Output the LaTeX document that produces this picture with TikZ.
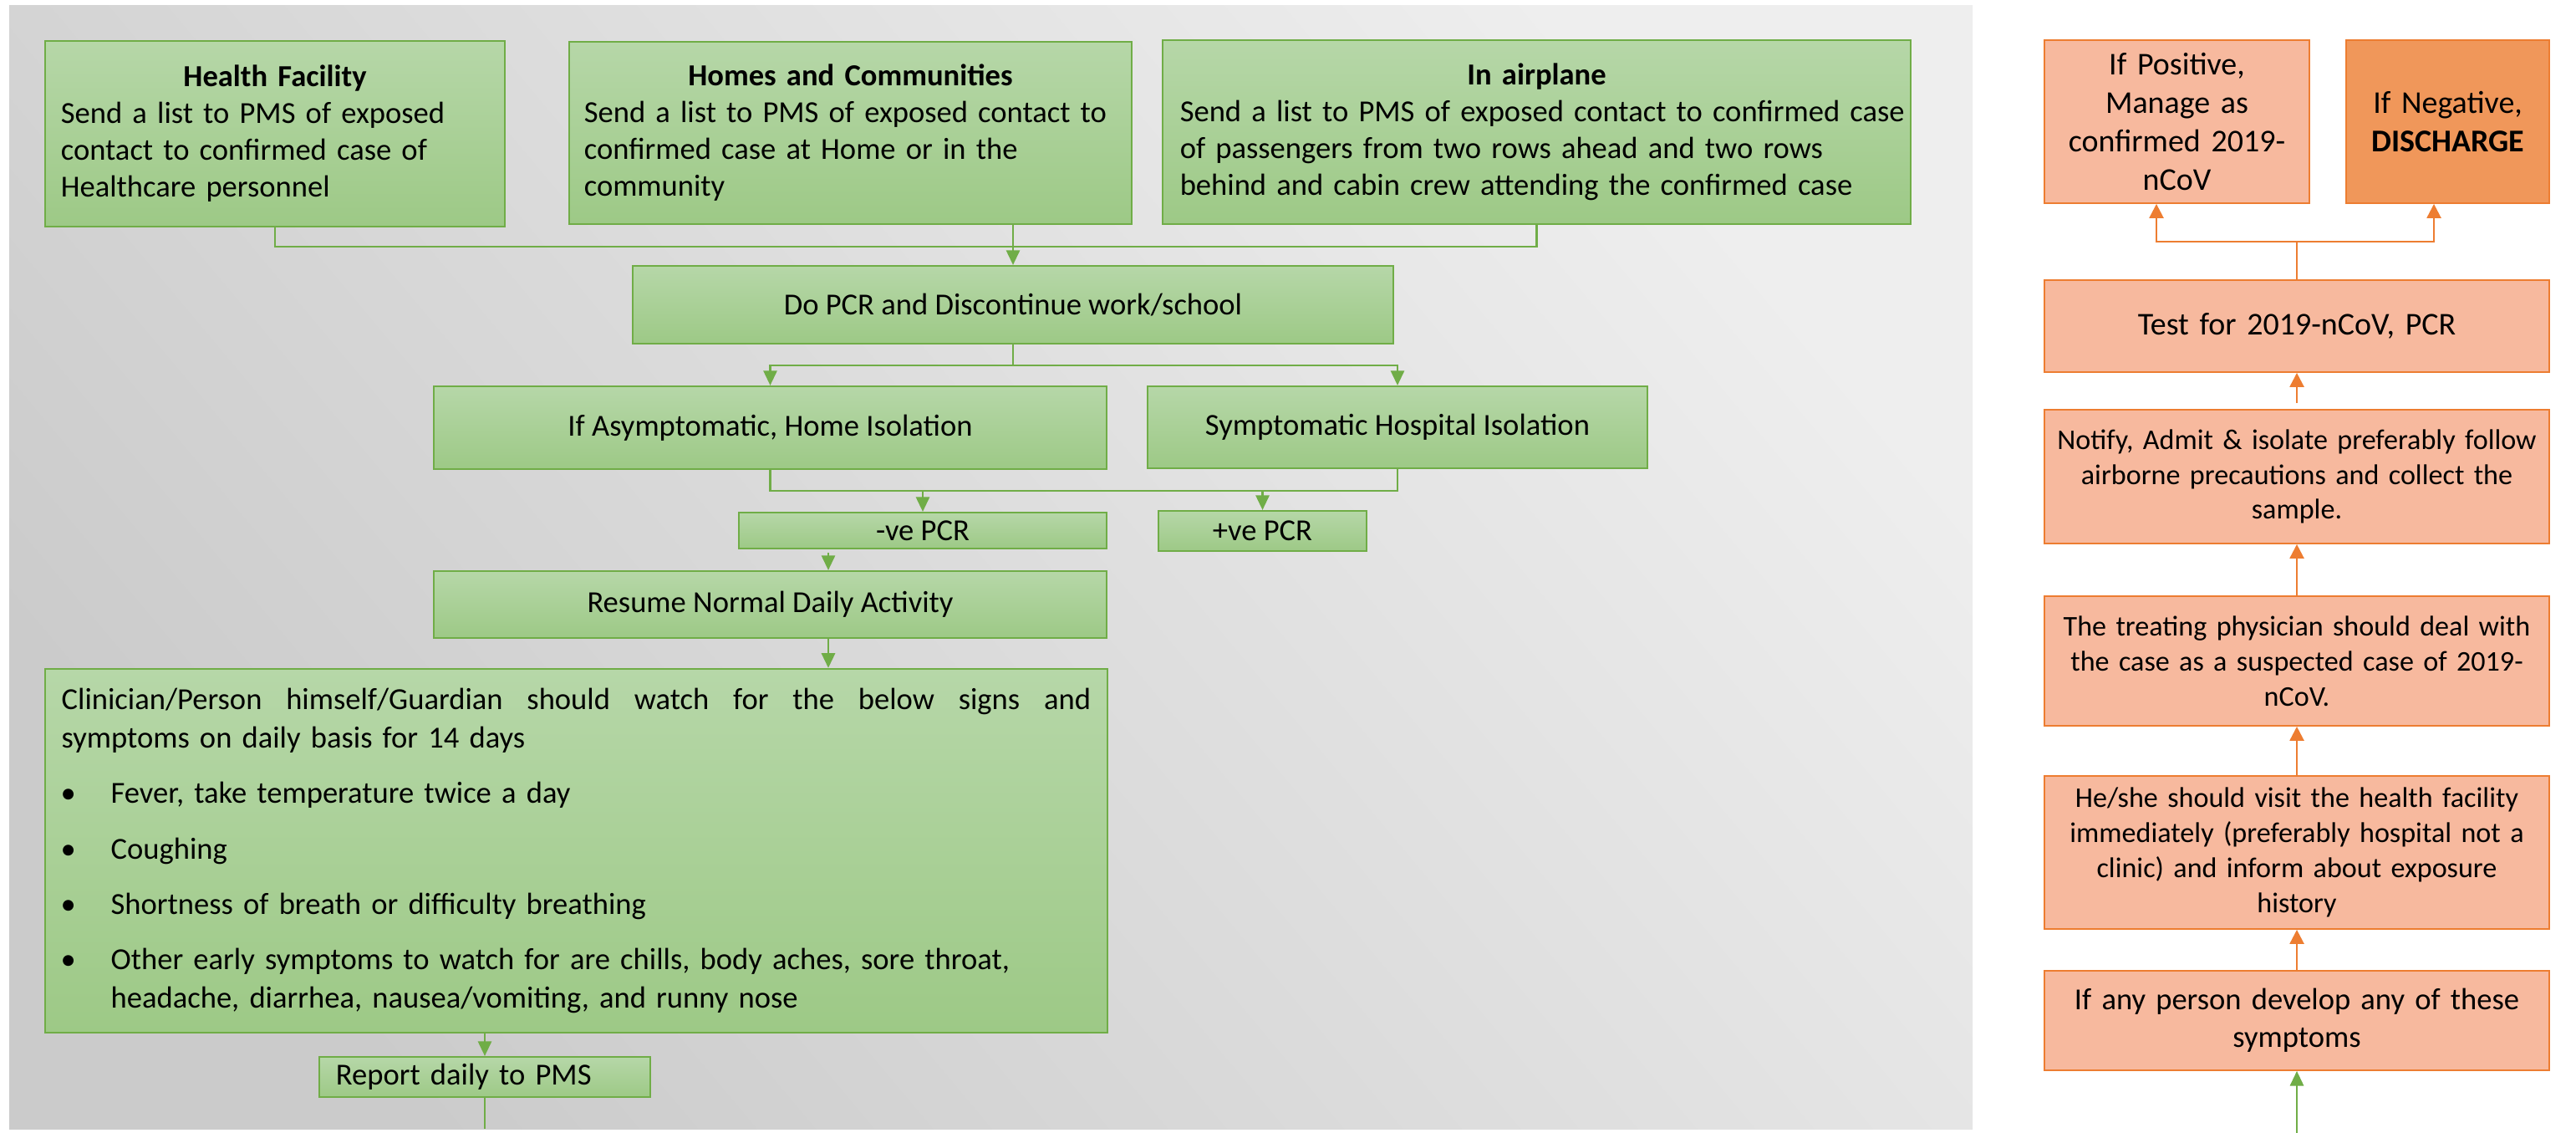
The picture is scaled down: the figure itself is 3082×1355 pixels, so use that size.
\documentclass[tikz,border=0pt]{standalone}
\usepackage{fontspec}
\setmainfont{Carlito}
\usetikzlibrary{arrows.meta,calc}
\definecolor{gline}{HTML}{70AD47}
\definecolor{gtop}{HTML}{B6D7A8}
\definecolor{gbot}{HTML}{9DC986}
\definecolor{bgdark}{HTML}{CBCBCB}
\definecolor{bglight}{HTML}{EEEEEE}
\definecolor{oline}{HTML}{ED7D31}
\definecolor{ofill}{HTML}{F7B99E}
\definecolor{odark}{HTML}{F0975A}
\newcommand{\bitem}[1]{\makebox[0.59cm][l]{\hspace{-0.01cm}\textbullet}#1}
\tikzset{
  gbox/.style={draw=gline, line width=0.6pt, top color=gtop, bottom color=gbot, inner sep=0pt,
    font=\fontsize{10.4}{12.5}\selectfont},
  obox/.style={draw=oline, line width=0.5pt, fill=ofill, inner sep=0pt, align=center,
    minimum width=6.04cm},
  gconn/.style={draw=gline, line width=0.65pt},
  garrow/.style={gconn, -{Triangle[length=5pt,width=4.6pt]}},
  oconn/.style={draw=oline, line width=0.7pt},
  oarrow/.style={oconn, -{Triangle[length=4.8pt,width=4.8pt]}},
  big/.style={font=\fontsize{10.8}{13.1}\selectfont},
  small/.style={font=\fontsize{9.7}{11.9}\selectfont},
}
\begin{document}
\begin{tikzpicture}[x=0.01cm, y=-0.01cm]
\useasboundingbox (0,0) rectangle (3082,1355);
\fill[white] (0,0) rectangle (3082,1355);
\shade[top color=bglight, bottom color=bgdark, shading angle=-50] (11,7) rectangle (2360,1350);

% ---------- left (green) ----------
\node[gbox, text width=5.12cm, inner xsep=0.19cm, minimum height=2.22cm, align=left] (hf) at (329,160)
  {\makebox[\hsize]{\bfseries Health Facility}\\\mbox{Send a list to PMS of exposed}\\\mbox{contact to confirmed case of}\\\mbox{Healthcare personnel}};
\node[gbox, text width=6.37cm, inner xsep=0.18cm, minimum height=2.18cm, align=left] (homes) at (1017.5,159)
  {\makebox[\hsize]{\bfseries Homes and Communities}\\\mbox{Send a list to PMS of exposed contact to}\\\mbox{confirmed case at Home or in the}\\\mbox{community}};
\node[gbox, text width=8.53cm, inner xsep=0.21cm, minimum height=2.2cm, align=left] (air) at (1838.5,158)
  {\makebox[\hsize]{\bfseries In airplane}\\\mbox{Send a list to PMS of exposed contact to confirmed case}\\\mbox{of passengers from two rows ahead and two rows}\\\mbox{behind and cabin crew attending the confirmed case}};

\node[gbox, minimum width=9.1cm, minimum height=0.93cm] (pcr) at (1212,364.5) {Do PCR and Discontinue work/school};
\node[gbox, minimum width=8.05cm, minimum height=0.99cm] (asym) at (921.5,511.5) {If Asymptomatic, Home Isolation};
\node[gbox, minimum width=5.98cm, minimum height=0.98cm] (sym) at (1672,511) {Symptomatic Hospital Isolation};
\node[gbox, minimum width=4.4cm, minimum height=0.43cm] (neg) at (1104,634.5) {-ve PCR};
\node[gbox, minimum width=2.49cm, minimum height=0.48cm] (posr) at (1510.5,635) {+ve PCR};
\node[gbox, minimum width=8.05cm, minimum height=0.8cm] (resume) at (921.5,723) {Resume Normal Daily Activity};

\node[gbox, text width=12.31cm, inner xsep=0.2cm, minimum height=4.35cm, align=left,
      font=\fontsize{10.4}{13.1}\selectfont] (watch) at (689.5,1017.5)
  {\makebox[\hsize][l]{Clinician/Person\hfill himself/Guardian\hfill should\hfill watch\hfill for\hfill the\hfill below\hfill signs\hfill and}\\
   symptoms on daily basis for 14 days\\[5.7pt]
   \bitem{Fever, take temperature twice a day}\\[5.7pt]
   \bitem{Coughing}\\[5.7pt]
   \bitem{Shortness of breath or difficulty breathing}\\[5.7pt]
   \bitem{Other early symptoms to watch for are chills, body aches, sore throat,}\\
   \hspace*{0.59cm}headache, diarrhea, nausea/vomiting, and runny nose};

\node[gbox, text width=3.56cm, inner xsep=0.2cm, minimum height=0.48cm, align=left] (report) at (580,1288) {Report daily to PMS};

% green connectors
\coordinate (b1) at (1212,295);
\draw[gconn] (hf.south) |- (b1) -| (air.south);
\draw[garrow] (pcr.north |- homes.south) -- (pcr.north);
\coordinate (b2) at (1212,437);
\draw[gconn] (pcr.south) -- (b2);
\draw[garrow] (b2) -| (asym.north);
\draw[garrow] (b2) -| (sym.north);
\coordinate (b3) at (1212,587);
\draw[gconn] (asym.south) |- (b3) -| (sym.south);
\draw[garrow] (neg.north |- b3) -- (neg.north);
\draw[garrow] (posr.north |- b3) -- (posr.north);
\coordinate (ax) at (991,0);
\draw[garrow] ([yshift=-0.04cm]neg.south -| ax) -- (resume.north -| ax);
\draw[garrow] (resume.south -| ax) -- (watch.north -| ax);
\draw[garrow] (watch.south -| report.north) -- (report.north);
\coordinate (exitg) at (580,1350);
\draw[gconn] (report.south) -- (exitg);

% ---------- right (orange) ----------
\node[obox, big, minimum width=3.17cm, text width=3.0cm, minimum height=1.95cm] (posi) at (2604.5,145.5)
  {If Positive,\\Manage as\\confirmed 2019-\\nCoV};
\node[obox, big, fill=odark, minimum width=2.43cm, text width=2.3cm, minimum height=1.95cm] (nega) at (2928.5,145.5)
  {If Negative,\\\textbf{DISCHARGE}};
\node[obox, big, text width=5.9cm, minimum height=1.1cm] (test) at (2748,390) {Test for 2019-nCoV, PCR};
\node[obox, small, text width=5.9cm, minimum height=1.6cm] (notify) at (2748,570)
  {Notify, Admit \& isolate preferably follow\\airborne precautions and collect the\\sample.};
\node[obox, small, text width=5.9cm, minimum height=1.55cm] (treat) at (2748,790.5)
  {The treating physician should deal with\\the case as a suspected case of 2019-\\nCoV.};
\node[obox, small, text width=5.9cm, minimum height=1.83cm] (visit) at (2748,1019.5)
  {He/she should visit the health facility\\immediately (preferably hospital not a\\clinic) and inform about exposure\\history};
\node[obox, font=\fontsize{10.4}{12.8}\selectfont, text width=5.9cm, minimum height=1.19cm] (anyp) at (2748,1220.5)
  {If any person develop any of these\\symptoms};

\coordinate (entry) at (2748,1355);
\draw[garrow] (entry) -- (anyp.south);
\draw[oarrow] (anyp.north) -- (visit.south);
\draw[oarrow] (visit.north) -- (treat.south);
\draw[oarrow] (treat.north) -- (notify.south);
\draw[oarrow] ([yshift=0.07cm]notify.north) -- (test.south);
\coordinate (b4) at (2748,289);
\draw[oconn] (test.north) -- (b4);
\draw[oarrow] (b4) -| ([xshift=-0.245cm]posi.south);
\draw[oarrow] (b4) -| ([xshift=-0.165cm]nega.south);
\end{tikzpicture}
\end{document}
